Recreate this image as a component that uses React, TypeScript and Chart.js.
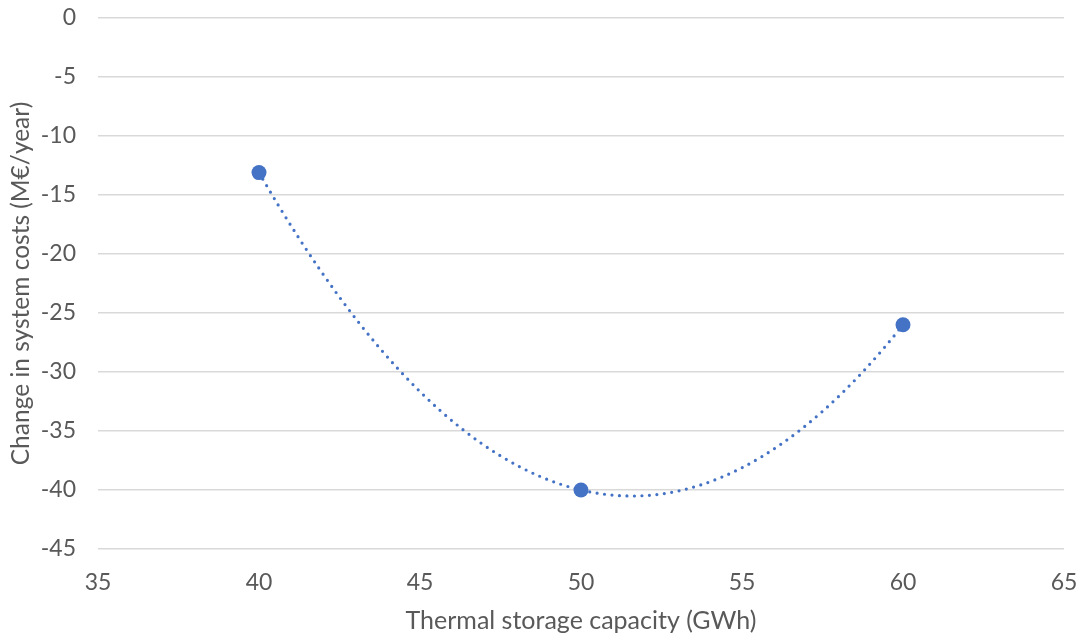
import React, { useEffect, useRef } from "react";
import { Chart, registerables } from "chart.js";

Chart.register(...registerables);

const capacityGWh = [40, 50, 60];
const costChange = [-13.1, -40, -26];
const xTicks = [35, 40, 45, 50, 55, 60, 65];
const yTicks = [0, -5, -10, -15, -20, -25, -30, -35, -40, -45];

const TEXT = "#595959";
const BLUE = "#4472C4";
const FONT = "Lato, 'Open Sans', sans-serif";

// least-squares polynomial (degree 2) fit, like a spreadsheet trendline
function fitQuadratic(xs: number[], ys: number[]) {
  const S = [0, 0, 0, 0, 0];
  const T = [0, 0, 0];
  for (let i = 0; i < xs.length; i++) {
    let p = 1;
    for (let k = 0; k < 5; k++) {
      S[k] += p;
      if (k < 3) T[k] += p * ys[i];
      p *= xs[i];
    }
  }
  const M = [
    [S[0], S[1], S[2], T[0]],
    [S[1], S[2], S[3], T[1]],
    [S[2], S[3], S[4], T[2]],
  ];
  for (let c = 0; c < 3; c++) {
    let piv = c;
    for (let r = c + 1; r < 3; r++) if (Math.abs(M[r][c]) > Math.abs(M[piv][c])) piv = r;
    [M[c], M[piv]] = [M[piv], M[c]];
    for (let r = 0; r < 3; r++) {
      if (r === c) continue;
      const f = M[r][c] / M[c][c];
      for (let k = c; k < 4; k++) M[r][k] -= f * M[c][k];
    }
  }
  return [M[0][3] / M[0][0], M[1][3] / M[1][1], M[2][3] / M[2][2]]; // c0,c1,c2
}

const trendlinePlugin = {
  id: "trendline",
  beforeDatasetsDraw(chart: any) {
    const xs = capacityGWh;
    const ys = costChange;
    const [c0, c1, c2] = fitQuadratic(xs, ys);
    const p = (x: number) => c0 + c1 * x + c2 * x * x;
    const dp = (x: number) => c1 + 2 * c2 * x;
    const x0 = Math.min(...xs);
    const x2 = Math.max(...xs);
    const xm = (x0 + x2) / 2;
    const ym = p(x0) + dp(x0) * (x2 - x0) / 2;
    const sx = chart.scales.x;
    const sy = chart.scales.y;
    const ctx = chart.ctx;
    ctx.save();
    ctx.beginPath();
    ctx.strokeStyle = BLUE;
    ctx.lineWidth = 3.2;
    ctx.lineCap = "round";
    ctx.setLineDash([0, 7.5]);
    ctx.moveTo(sx.getPixelForValue(x0), sy.getPixelForValue(p(x0)));
    ctx.quadraticCurveTo(
      sx.getPixelForValue(xm),
      sy.getPixelForValue(ym),
      sx.getPixelForValue(x2),
      sy.getPixelForValue(p(x2))
    );
    ctx.stroke();
    ctx.restore();
  },
};

export default function App() {
  const ref = useRef<HTMLCanvasElement | null>(null);
  useEffect(() => {
    if (!ref.current) return;
    const chart = new Chart(ref.current, {
      type: "scatter",
      data: {
        datasets: [
          {
            data: capacityGWh.map((x, i) => ({ x, y: costChange[i] })),
            backgroundColor: BLUE,
            borderColor: BLUE,
            pointRadius: 7.5,
            pointHoverRadius: 7.5,
            borderWidth: 0,
          },
        ],
      },
      options: {
        responsive: false,
        animation: false,
        layout: { padding: { left: 0, right: 19, top: 18, bottom: 0 } },
        plugins: { legend: { display: false }, tooltip: { enabled: false } },
        scales: {
          x: {
            type: "linear",
            min: 35,
            max: 65,
            afterBuildTicks: (s: any) => {
              s.ticks = xTicks.map((v) => ({ value: v }));
            },
            afterFit: (s: any) => {
              s.height = 87;
              s.paddingLeft = 0;
              s.paddingRight = 0;
            },
            grid: { display: false, drawTicks: false },
            border: { display: false },
            ticks: {
              color: TEXT,
              font: { family: FONT, size: 23 },
              padding: 20,
            },
            title: {
              display: true,
              text: "Thermal storage capacity (GWh)",
              color: TEXT,
              font: { family: FONT, size: 25 },
              padding: { top: 6, bottom: 0 },
            },
          },
          y: {
            type: "linear",
            min: -45,
            max: 0,
            afterBuildTicks: (s: any) => {
              s.ticks = yTicks.map((v) => ({ value: v }));
            },
            afterFit: (s: any) => {
              s.width = 98;
              s.paddingTop = 0;
              s.paddingBottom = 0;
            },
            grid: { color: "#d9d9d9", lineWidth: 1.5, drawTicks: false },
            border: { display: false },
            ticks: {
              color: TEXT,
              font: { family: FONT, size: 23 },
              padding: 22,
            },
            title: {
              display: true,
              text: "Change in system costs (M€/year)",
              color: TEXT,
              font: { family: FONT, size: 24.5 },
              padding: { top: 6, bottom: 0 },
            },
          },
        },
      },
      plugins: [trendlinePlugin],
    });
    return () => chart.destroy();
  }, []);
  return (
    <div style={{ position: "fixed", left: 0, top: 0, width: 1083, height: 636, background: "#fff" }}>
      <canvas ref={ref} width={1083} height={636} />
    </div>
  );
}
